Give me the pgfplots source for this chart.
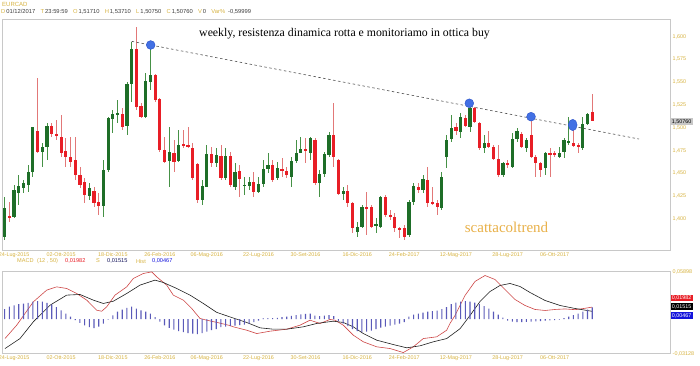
\documentclass[border=0pt]{standalone}
\usepackage{pgfplots}
\pgfplotsset{compat=1.18}
\usepackage{pgfplotstable}
\usetikzlibrary{calc}
\usepackage{fontspec}
\setmainfont{Liberation Sans}
\newfontfamily\seriffont{Liberation Serif}
\definecolor{labgold}{RGB}{214,178,64}
\definecolor{hdrval}{RGB}{60,60,60}
\definecolor{scatta}{RGB}{232,176,72}
\definecolor{gbody}{RGB}{30,110,40}
\definecolor{gwick}{RGB}{70,145,70}
\definecolor{rbody}{RGB}{232,30,38}
\definecolor{rwick}{RGB}{226,120,120}
\definecolor{circ}{RGB}{66,112,228}
\definecolor{circedge}{RGB}{40,80,200}
\definecolor{macdred}{RGB}{205,70,70}
\definecolor{sigcol}{RGB}{30,30,30}
\definecolor{histcol}{RGB}{90,90,185}
\definecolor{framecol}{RGB}{200,200,200}
\definecolor{trendcol}{RGB}{80,80,80}
\definecolor{boxblue}{RGB}{20,20,220}
\definecolor{navy}{RGB}{20,20,90}

\pgfplotstableread{
i o h l c
0 1.3805 1.4244 1.3769 1.4116
1 1.4032 1.4189 1.3970 1.4017
2 1.4025 1.4372 1.4006 1.4317
3 1.4280 1.4481 1.4152 1.4364
4 1.4342 1.4427 1.4280 1.4390
5 1.4372 1.4591 1.4299 1.4518
6 1.4518 1.5011 1.4463 1.5004
7 1.4964 1.5549 1.4719 1.4737
8 1.4737 1.4829 1.4573 1.4792
9 1.4792 1.5048 1.4646 1.5019
10 1.5019 1.5048 1.4902 1.4931
11 1.4924 1.5084 1.4865 1.4918
12 1.4902 1.5139 1.4682 1.4719
13 1.4745 1.4883 1.4573 1.4682
14 1.4682 1.4902 1.4573 1.4628
15 1.4646 1.4902 1.4427 1.4481
16 1.4481 1.4573 1.4335 1.4372
17 1.4408 1.4445 1.4171 1.4262
18 1.4251 1.4390 1.4207 1.4335
19 1.4306 1.4353 1.4134 1.4171
20 1.4189 1.4280 1.4043 1.4142
21 1.4142 1.4646 1.4025 1.4536
22 1.4536 1.5121 1.4518 1.5103
23 1.5092 1.5194 1.4938 1.5150
24 1.5139 1.5304 1.5048 1.5158
25 1.5150 1.5212 1.4975 1.5011
26 1.5019 1.5505 1.4920 1.5476
27 1.5476 1.5943 1.5286 1.5859
28 1.5859 1.6101 1.5194 1.5223
29 1.5238 1.5267 1.5103 1.5121
30 1.5121 1.5596 1.5103 1.5516
31 1.5505 1.5907 1.5413 1.5578
32 1.5578 1.5590 1.5286 1.5304
33 1.5311 1.5322 1.4737 1.4756
34 1.4756 1.4902 1.4609 1.4628
35 1.4639 1.5011 1.4353 1.4737
36 1.4719 1.4865 1.4518 1.4628
37 1.4639 1.4975 1.4628 1.4810
38 1.4812 1.4975 1.4774 1.4808
39 1.4810 1.5011 1.4774 1.4785
40 1.4781 1.4829 1.4427 1.4445
41 1.4602 1.4609 1.4171 1.4207
42 1.4207 1.4427 1.4152 1.4364
43 1.4353 1.4810 1.4353 1.4708
44 1.4708 1.4792 1.4573 1.4609
45 1.4609 1.4774 1.4573 1.4701
46 1.4690 1.4810 1.4427 1.4445
47 1.4445 1.4774 1.4427 1.4690
48 1.4690 1.4737 1.4353 1.4372
49 1.4353 1.4609 1.4317 1.4518
50 1.4529 1.4591 1.4244 1.4434
51 1.4361 1.4463 1.4262 1.4372
52 1.4364 1.4463 1.4317 1.4401
53 1.4401 1.4518 1.4244 1.4299
54 1.4299 1.4463 1.4280 1.4383
55 1.4383 1.4646 1.4353 1.4547
56 1.4547 1.4719 1.4500 1.4587
57 1.4591 1.4646 1.4408 1.4427
58 1.4445 1.4628 1.4427 1.4555
59 1.4538 1.4664 1.4463 1.4534
60 1.4529 1.4573 1.4445 1.4481
61 1.4463 1.4682 1.4353 1.4639
62 1.4639 1.4865 1.4609 1.4719
63 1.4726 1.4902 1.4719 1.4763
64 1.4763 1.4883 1.4609 1.4745
65 1.4726 1.4902 1.4646 1.4883
66 1.4865 1.4883 1.4372 1.4390
67 1.4390 1.4536 1.4244 1.4492
68 1.4492 1.4737 1.4463 1.4712
69 1.4701 1.4957 1.4682 1.4920
70 1.4920 1.5267 1.4573 1.4682
71 1.4646 1.4655 1.4262 1.4273
72 1.4273 1.4353 1.4207 1.4306
73 1.4306 1.4372 1.4134 1.4171
74 1.4178 1.4189 1.3842 1.3897
75 1.3860 1.3970 1.3805 1.3915
76 1.3915 1.4152 1.3897 1.4134
77 1.4127 1.4299 1.3824 1.4105
78 1.4134 1.4152 1.3897 1.3915
79 1.3926 1.4006 1.3842 1.3944
80 1.3915 1.4255 1.3897 1.4244
81 1.4244 1.4262 1.4025 1.4043
82 1.4043 1.4098 1.3988 1.4025
83 1.4025 1.4061 1.3860 1.3897
84 1.3897 1.3915 1.3787 1.3889
85 1.3897 1.3933 1.3769 1.3805
86 1.3824 1.4207 1.3805 1.4189
87 1.4189 1.4390 1.4152 1.4361
88 1.4353 1.4390 1.4280 1.4317
89 1.4317 1.4481 1.4280 1.4434
90 1.4427 1.4573 1.4134 1.4171
91 1.4185 1.4353 1.4152 1.4171
92 1.4178 1.4207 1.4043 1.4127
93 1.4116 1.4518 1.4098 1.4463
94 1.4682 1.4920 1.4555 1.4865
95 1.4872 1.5139 1.4847 1.4993
96 1.5004 1.5048 1.4920 1.4968
97 1.4957 1.5158 1.4883 1.5121
98 1.5110 1.5139 1.5011 1.5019
99 1.5011 1.5267 1.4957 1.5212
100 1.5212 1.5231 1.5048 1.5066
101 1.5055 1.5066 1.4756 1.4774
102 1.4774 1.4920 1.4719 1.4836
103 1.4836 1.4964 1.4774 1.4792
104 1.4792 1.4810 1.4646 1.4657
105 1.4653 1.4810 1.4463 1.4481
106 1.4481 1.4628 1.4463 1.4609
107 1.4604 1.4646 1.4555 1.4600
108 1.4573 1.4938 1.4555 1.4872
109 1.4872 1.4993 1.4847 1.4964
110 1.4931 1.4957 1.4774 1.4785
111 1.4774 1.4883 1.4737 1.4865
112 1.4920 1.5103 1.4664 1.4682
113 1.4682 1.4701 1.4463 1.4609
114 1.4617 1.4628 1.4463 1.4536
115 1.4555 1.4737 1.4481 1.4719
116 1.4726 1.4781 1.4463 1.4697
117 1.4726 1.4748 1.4682 1.4701
118 1.4675 1.4785 1.4664 1.4719
119 1.4737 1.4883 1.4664 1.4865
120 1.4843 1.5121 1.4810 1.4854
121 1.4836 1.5004 1.4792 1.4799
122 1.4807 1.4829 1.4719 1.4785
123 1.4774 1.5121 1.4756 1.5041
124 1.5041 1.5165 1.5030 1.5150
125 1.5171 1.5371 1.5075 1.5076
}\candles

\pgfplotstableread{
i m
0.06 -0.0148
2.55 -0.0001
6.09 0.0256
8.94 0.0385
11.06 0.0421
13.19 0.0403
15.32 0.0348
17.45 0.0275
19.57 0.0164
20.64 0.0153
21.70 0.0201
23.47 0.0330
25.96 0.0421
27.36 0.0513
29.49 0.0568
31.28 0.0586
32.34 0.0531
34.47 0.0440
35.87 0.0330
38.00 0.0275
39.79 0.0183
41.55 0.0073
42.98 0.0054
45.11 0.0030
47.94 -0.0005
48.64 -0.0019
51.49 -0.0056
53.62 -0.0093
56.45 -0.0067
60.00 -0.0045
62.83 -0.0001
64.96 0.0054
67.09 0.0018
69.21 0.0062
70.28 0.0054
72.04 -0.0001
74.17 -0.0111
76.30 -0.0184
79.15 -0.0239
81.98 -0.0258
84.81 -0.0302
86.94 -0.0239
89.06 -0.0148
91.91 -0.0129
94.04 -0.0056
94.74 0.0018
95.81 0.0106
97.94 0.0326
100.06 0.0480
102.19 0.0546
104.32 0.0502
106.45 0.0392
108.57 0.0282
110.70 0.0216
112.83 0.0172
114.96 0.0161
117.09 0.0172
119.21 0.0178
121.34 0.0170
123.47 0.0185
125 0.01982
}\macdline

\pgfplotstableread{
i s
0.06 -0.0258
3.26 -0.0148
6.09 0.0036
9.64 0.0219
13.19 0.0330
16.02 0.0337
18.85 0.0275
20.98 0.0238
23.11 0.0263
25.96 0.0348
28.79 0.0440
31.98 0.0495
33.74 0.0469
36.60 0.0403
39.43 0.0330
42.26 0.0238
45.11 0.0140
47.94 0.0090
51.49 0.0029
54.32 -0.0030
57.15 -0.0045
60.00 -0.0045
63.53 -0.0019
66.38 0.0018
69.91 0.0043
72.04 0.0029
74.17 -0.0019
76.30 -0.0093
79.15 -0.0166
82.68 -0.0214
85.53 -0.0250
88.36 -0.0228
91.19 -0.0184
94.04 -0.0148
96.87 -0.0040
99.00 0.0106
101.13 0.0260
103.26 0.0370
105.38 0.0436
107.51 0.0458
109.64 0.0425
111.77 0.0359
114.96 0.0271
118.15 0.0216
121.34 0.0183
125 0.01515
}\signalline

\pgfplotstableread{
i h
0 0.0040
1 0.0050
2 0.0055
3 0.0060
4 0.0062
5 0.0065
6 0.0070
7 0.0072
8 0.0070
9 0.0065
10 0.0058
11 0.0048
12 0.0035
13 0.0022
14 0.0010
15 -0.0004
16 -0.0015
17 -0.0025
18 -0.0032
19 -0.0036
20 -0.0030
21 -0.0018
22 -0.0002
23 0.0015
24 0.0030
25 0.0038
26 0.0045
27 0.0050
28 0.0042
29 0.0035
30 0.0030
31 0.0022
32 0.0008
33 -0.0010
34 -0.0025
35 -0.0035
36 -0.0042
37 -0.0048
38 -0.0052
39 -0.0056
40 -0.0058
41 -0.0060
42 -0.0056
43 -0.0050
44 -0.0044
45 -0.0040
46 -0.0032
47 -0.0030
48 -0.0028
49 -0.0026
50 -0.0024
51 -0.0022
52 -0.0018
53 -0.0012
54 -0.0006
55 0.0003
56 0.0004
57 0.0004
58 0.0005
59 0.0008
60 0.0010
61 0.0013
62 0.0016
63 0.0019
64 0.0021
65 0.0022
66 0.0014
67 0.0012
68 0.0014
69 0.0016
70 0.0012
71 -0.0008
72 -0.0018
73 -0.0028
74 -0.0040
75 -0.0048
76 -0.0052
77 -0.0050
78 -0.0046
79 -0.0040
80 -0.0034
81 -0.0030
82 -0.0026
83 -0.0022
84 -0.0018
85 -0.0012
86 0.0010
87 0.0018
88 0.0022
89 0.0026
90 0.0030
91 0.0032
92 0.0034
93 0.0040
94 0.0048
95 0.0060
96 0.0066
97 0.0070
98 0.0072
99 0.0070
100 0.0066
101 0.0060
102 0.0052
103 0.0042
104 0.0030
105 0.0018
106 0.0006
107 -0.0006
108 -0.0010
109 -0.0012
110 -0.0012
111 -0.0011
112 -0.0010
113 -0.0009
114 -0.0008
115 -0.0006
116 -0.0005
117 -0.0004
118 -0.0002
119 0.0004
120 0.0010
121 0.0016
122 0.0022
123 0.0030
124 0.0038
125 0.0047
}\histtab

\pgfplotsset{
  chartbase/.style={
    scale only axis, width=668pt, anchor=south west,
    xmin=-0.574, xmax=141.55,
    axis line style={draw=framecol, line width=0.8pt},
    major tick length=0pt,
    tick style={draw=none},
    scaled y ticks=false,
    scaled x ticks=false,
    xtick={2,12,23,33,43,54,64,75,85,96,107,117},
    xticklabels={24-Lug-2015,02-Ott-2015,18-Dic-2015,26-Feb-2016,06-Mag-2016,22-Lug-2016,30-Set-2016,16-Dic-2016,24-Feb-2017,12-Mag-2017,28-Lug-2017,06-Ott-2017},
    tick label style={font=\fontsize{5.4}{6}\selectfont, text=labgold},
    xticklabel style={inner sep=0pt},
    xticklabel shift=2.3pt,
    yticklabel style={inner sep=0pt},
    yticklabel shift=2.5pt,
    yticklabel pos=right,
    enlargelimits=false,
  }
}

\begin{document}
\begin{tikzpicture}[x=1pt,y=1pt]

% ---------- price panel ----------
\begin{axis}[chartbase, name=price, at={(2,115)}, height=231pt,
  ymin=1.3659, ymax=1.6192,
  ytick={1.4,1.425,1.45,1.475,1.5,1.525,1.55,1.575,1.6},
  yticklabels={{1,400},{1,425},{1,450},{1,475},{1,500},{1,525},{1,550},{1,575},{1,600}},
  clip=true]
  % wicks
  \addplot[forget plot, draw=none, mark=none,
    restrict expr to domain={\thisrow{c}-\thisrow{o}}{0:1},
    error bars/.cd, y dir=both, y explicit, error mark=none,
    error bar style={draw=gwick, solid, line width=0.8pt}]
    table[x=i, y expr={(\thisrow{h}+\thisrow{l})/2}, y error expr={(\thisrow{h}-\thisrow{l})/2}] {\candles};
  \addplot[forget plot, draw=none, mark=none,
    restrict expr to domain={\thisrow{c}-\thisrow{o}}{-1:0},
    error bars/.cd, y dir=both, y explicit, error mark=none,
    error bar style={draw=rwick, solid, line width=0.8pt}]
    table[x=i, y expr={(\thisrow{h}+\thisrow{l})/2}, y error expr={(\thisrow{h}-\thisrow{l})/2}] {\candles};
  % bodies
  \addplot[forget plot, draw=none, mark=none,
    restrict expr to domain={\thisrow{c}-\thisrow{o}}{0:1},
    error bars/.cd, y dir=both, y explicit, error mark=none,
    error bar style={draw=gbody, solid, line width=3.2pt}]
    table[x=i, y expr={(\thisrow{o}+\thisrow{c})/2}, y error expr={max(abs(\thisrow{c}-\thisrow{o})/2,0.0006)}] {\candles};
  \addplot[forget plot, draw=none, mark=none,
    restrict expr to domain={\thisrow{c}-\thisrow{o}}{-1:0},
    error bars/.cd, y dir=both, y explicit, error mark=none,
    error bar style={draw=rbody, solid, line width=3.2pt}]
    table[x=i, y expr={(\thisrow{o}+\thisrow{c})/2}, y error expr={max(abs(\thisrow{c}-\thisrow{o})/2,0.0006)}] {\candles};
  % trendline
  \addplot[trendcol, line width=0.6pt, dash pattern=on 2.5pt off 2.5pt, mark=none]
    coordinates {(27.02,1.5947) (134.96,1.4876)};
  % circles
  \addplot[only marks, mark=*, mark size=4.4pt, mark options={fill=circ, draw=circedge, line width=0.4pt}]
    coordinates {(31.06,1.5907) (98.85,1.5268) (111.98,1.5121)};
  \addplot[only marks, mark=*, mark size=4.4pt, mark options={fill=circ, draw=circedge, line width=0.4pt, yscale=1.3}]
    coordinates {(120.85,1.5030)};
\end{axis}

% ---------- MACD panel ----------
\begin{axis}[chartbase, name=macd, at={(2,15)}, height=82pt,
  ymin=-0.03128, ymax=0.05898,
  ytick={-0.03128,0.05898},
  yticklabels={{-0,03128},{0,05898}},
  clip=true]
  \addplot[macdred, line width=0.6pt, mark=none] table[x=i, y=m] {\macdline};
  \addplot[sigcol, line width=0.6pt, mark=none] table[x=i, y=s] {\signalline};
\end{axis}
\begin{axis}[scale only axis, width=668pt, height=82pt, at={(2,15)}, anchor=south west,
  xmin=-0.574, xmax=141.55, ymin=-0.0128, ymax=0.02, hide axis, enlargelimits=false, clip=true,
  scaled y ticks=false]
  \addplot[ybar, bar width=1.1pt, fill=histcol, draw=none] table[x=i, y=h] {\histtab};
\end{axis}

\coordinate (O) at ($(price.south west)+(-2,-115)$);

\begin{scope}[shift={(O)}]
% ---------- header ----------
\node[anchor=west, inner sep=0pt, text=labgold, font=\fontsize{6}{7}\selectfont] at (2,361) {EURCAD};
\node[anchor=west, inner sep=0pt, font=\fontsize{5.8}{7}\selectfont] at (1,353) {%
  \textcolor{labgold}{D}\,\textcolor{hdrval}{01/12/2017}\hspace{5.3pt}%
  \textcolor{labgold}{T}\,\textcolor{hdrval}{23:59:59}\hspace{5.3pt}%
  \textcolor{labgold}{O}\,\textcolor{hdrval}{1,51710}\hspace{5.3pt}%
  \textcolor{labgold}{H}\,\textcolor{hdrval}{1,53710}\hspace{5.3pt}%
  \textcolor{labgold}{L}\,\textcolor{hdrval}{1,50750}\hspace{5.3pt}%
  \textcolor{labgold}{C}\,\textcolor{hdrval}{1,50760}\hspace{5.3pt}%
  \textcolor{labgold}{V}\,\textcolor{hdrval}{0}\hspace{5.3pt}%
  \textcolor{labgold}{Var\%}\hspace{3pt}\textcolor{hdrval}{-0,59999}};

% ---------- annotations ----------
\node[inner sep=0pt, font=\seriffont\fontsize{11.8}{13}\selectfont, text=black] at (344.5,331.7)
  {weekly, resistenza dinamica rotta e monitoriamo in ottica buy};
\node[inner sep=0pt, font=\seriffont\fontsize{15}{17}\selectfont, text=scatta] at (506.5,137.7)
  {scattacoltrend};

% ---------- right-side value boxes ----------
\node[anchor=west, fill=black!22, text=black, inner xsep=1.2pt, inner ysep=1pt, font=\fontsize{5.4}{6}\selectfont] at (670.5,243.5) {1,50760};
\node[anchor=west, fill=rbody, text=white, inner xsep=1.2pt, inner ysep=1pt, font=\fontsize{5.4}{6}\selectfont] at (670.5,67) {0,01982};
\node[anchor=west, fill=black, text=white, inner xsep=1.2pt, inner ysep=1pt, font=\fontsize{5.4}{6}\selectfont] at (670.5,58.5) {0,01515};
\node[anchor=west, fill=boxblue, text=white, inner xsep=1.2pt, inner ysep=1pt, font=\fontsize{5.4}{6}\selectfont] at (670.5,49.5) {0,00467};

% ---------- MACD legend ----------
\begin{scope}[every node/.style={anchor=west, inner sep=0pt, font=\fontsize{5.6}{6}\selectfont}]
\node[text=labgold] at (17,104) {MACD};
\node[text=labgold] at (37,104) {(12 , 50)};
\node[text=rbody] at (65,104) {0,01982};
\node[text=labgold] at (96,104) {S};
\node[text=navy] at (107,104) {0,01515};
\node[text=labgold] at (136,104) {Hist};
\node[text=boxblue] at (152,104) {0,00467};
\end{scope}
\end{scope}

\pgfresetboundingbox
\useasboundingbox (O) rectangle ($(O)+(700,365)$);
\end{tikzpicture}
\end{document}
